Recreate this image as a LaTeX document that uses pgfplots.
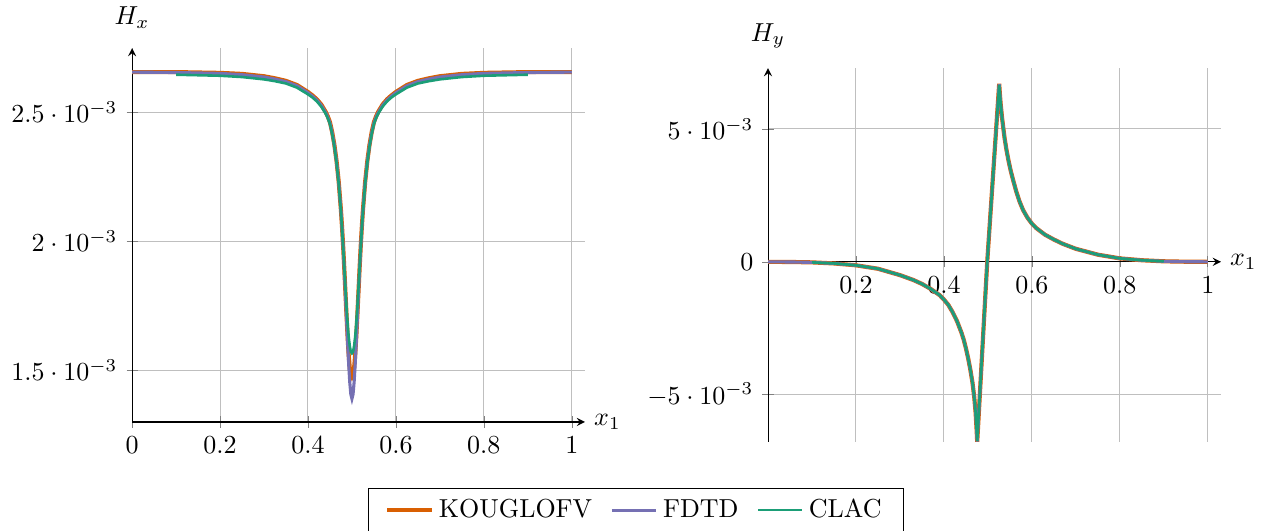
\documentclass[border=0pt]{standalone}
\usepackage{pgfplots}
\usepackage{pgfplotstable}
\pgfplotsset{compat=1.18}
\definecolor{cKou}{HTML}{D95F02}
\definecolor{cFd}{HTML}{7570B3}
\definecolor{cCl}{HTML}{1B9E77}
% H_x (values in units of 1e-3)
\pgfplotstableread{
x      ko     fd     cl
0      2.655  2.655  nan
0.1    2.655  2.6535 2.645
0.2    2.652  2.650  2.641
0.25   2.648  2.645  2.636
0.3    2.639  2.636  2.627
0.325  2.631  2.628  2.620
0.35   2.621  2.618  2.611
0.375  2.605  2.602  2.595
0.4    2.578  2.575  2.569
0.41   2.565  2.562  2.557
0.42   2.550  2.547  2.542
0.43   2.530  2.527  2.522
0.44   2.502  2.499  2.495
0.445  2.484  2.481  2.477
0.45   2.461  2.458  2.454
0.455  2.423  2.420  2.416
0.46   2.374  2.371  2.367
0.465  2.311  2.308  2.304
0.47   2.229  2.226  2.222
0.475  2.120  2.117  2.114
0.4775 2.055  2.051  2.049
0.48   1.981  1.977  1.977
0.4825 1.898  1.894  1.902
0.485  1.809  1.804  1.824
0.4875 1.720  1.710  1.750
0.49   1.635  1.615  1.685
0.4925 1.562  1.527  1.632
0.495  1.510  1.455  1.595
0.4975 1.482  1.407  1.572
0.5    1.474  1.390  1.566
0.5025 1.482  1.407  1.572
0.505  1.510  1.455  1.595
0.5075 1.562  1.527  1.632
0.51   1.635  1.615  1.685
0.5125 1.720  1.710  1.750
0.515  1.809  1.804  1.824
0.5175 1.898  1.894  1.902
0.52   1.981  1.977  1.977
0.5225 2.055  2.051  2.049
0.525  2.120  2.117  2.114
0.53   2.229  2.226  2.222
0.535  2.311  2.308  2.304
0.54   2.374  2.371  2.367
0.545  2.423  2.420  2.416
0.55   2.461  2.458  2.454
0.555  2.484  2.481  2.477
0.56   2.502  2.499  2.495
0.57   2.530  2.527  2.522
0.58   2.550  2.547  2.542
0.59   2.565  2.562  2.557
0.6    2.578  2.575  2.569
0.625  2.605  2.602  2.595
0.65   2.621  2.618  2.611
0.675  2.631  2.628  2.620
0.7    2.639  2.636  2.627
0.75   2.648  2.645  2.636
0.8    2.652  2.650  2.641
0.9    2.655  2.6535 2.645
1      2.655  2.655  nan
}\hxdata
% H_y (values in units of 1e-3)
\pgfplotstableread{
x       ko     fd     cl
0       0.000  0.000  nan
0.05   -0.005 -0.005  nan
0.1    -0.020 -0.020 -0.020
0.15   -0.060 -0.060 -0.060
0.2    -0.130 -0.130 -0.130
0.25   -0.260 -0.260 -0.260
0.3    -0.500 -0.500 -0.500
0.33   -0.680 -0.680 -0.680
0.35   -0.830 -0.830 -0.830
0.37   -1.020 -1.020 -1.020
0.39   -1.250 -1.250 -1.250
0.4    -1.420 -1.420 -1.420
0.41   -1.620 -1.620 -1.620
0.42   -1.900 -1.900 -1.900
0.43   -2.240 -2.240 -2.240
0.44   -2.670 -2.670 -2.670
0.445  -2.930 -2.930 -2.930
0.45   -3.250 -3.250 -3.250
0.455  -3.620 -3.620 -3.620
0.46   -4.050 -4.050 -4.050
0.465  -4.550 -4.550 -4.550
0.469  -5.100 -5.100 -5.100
0.472  -5.650 -5.650 -5.650
0.4743 -6.300 -6.300 -6.300
0.4757 -6.780 -6.760 -6.740
0.4985  0.000  0.000  0.000
0.5257  6.700  6.680  6.660
0.5271  6.350  6.350  6.350
0.529   5.950  5.950  5.950
0.532   5.450  5.450  5.450
0.5348  5.070  5.070  5.070
0.538   4.650  4.650  4.650
0.5424  4.200  4.200  4.200
0.547   3.800  3.800  3.800
0.552   3.420  3.420  3.420
0.5575  3.070  3.070  3.070
0.565   2.620  2.620  2.620
0.572   2.270  2.270  2.270
0.58    1.950  1.950  1.950
0.59    1.660  1.660  1.660
0.6     1.440  1.440  1.440
0.61    1.270  1.270  1.270
0.63    1.020  1.020  1.020
0.65    0.840  0.840  0.840
0.67    0.680  0.680  0.680
0.7     0.490  0.490  0.490
0.75    0.270  0.270  0.270
0.8     0.130  0.130  0.130
0.85    0.060  0.060  0.060
0.9     0.020  0.020  0.020
0.95    0.005  0.005  nan
1       0.000  0.000  nan
}\hydata
\begin{document}
\begin{tikzpicture}
\path[use as bounding box] (-50.8pt,-41.9pt) rectangle (436.9pt,162.3pt);
\begin{axis}[
  at={(0pt,0pt)}, anchor=south west,
  scale only axis, width=174.2pt, height=143.8pt,
  axis lines=left,
  xmin=0, xmax=1.03, ymin=1.3, ymax=2.748,
  xtick={0,0.2,0.4,0.6,0.8,1},
  ytick={1.5,2,2.5},
  yticklabels={$1.5\cdot 10^{-3}$,$2\cdot 10^{-3}$,$2.5\cdot 10^{-3}$},
  scaled y ticks=false,
  grid=major,
  tick align=center,
  xlabel={$x_1$}, ylabel={$H_x$},
  every axis x label/.style={at={(axis description cs:1,0)}, anchor=west},
  every axis y label/.style={at={(axis description cs:0,1)}, anchor=south, yshift=4pt},
  legend columns=3,
  legend style={at={(axis description cs:1.1125,-0.1766)}, anchor=north, draw=black,
    inner xsep=6.5pt,
    /tikz/every even column/.append style={column sep=5pt}},
  legend cell align=left,
]
\addplot[cKou, line width=1.6pt, no markers] table[x=x, y=ko] {\hxdata};
\addlegendentry{KOUGLOFV}
\addplot[cFd, line width=1.2pt, no markers] table[x=x, y=fd] {\hxdata};
\addlegendentry{FDTD}
\addplot[cCl, line width=1.0pt, no markers] table[x=x, y=cl] {\hxdata};
\addlegendentry{CLAC}
\end{axis}

\begin{axis}[
  at={(244.6pt,-7.7pt)}, anchor=south west,
  scale only axis, width=174.2pt, height=143.8pt,
  axis lines=middle,
  xmin=0, xmax=1.03, ymin=-6.78, ymax=7.29,
  xtick={0.2,0.4,0.6,0.8,1},
  ytick={-5,0,5},
  yticklabels={$-5\cdot 10^{-3}$,$0$,$5\cdot 10^{-3}$},
  scaled y ticks=false,
  hide obscured y ticks=false,
  hide obscured x ticks=false,
  grid=major,
  tick align=center,
  xlabel={$x_1$}, ylabel={$H_y$},
  every axis x label/.style={at={(axis cs:1.03,0)}, anchor=west},
  every axis y label/.style={at={(axis description cs:0,1)}, anchor=south, yshift=4pt},
]
\addplot[cKou, line width=1.6pt, no markers] table[x=x, y=ko] {\hydata};
\addplot[cFd, line width=1.2pt, no markers] table[x=x, y=fd] {\hydata};
\addplot[cCl, line width=1.0pt, no markers] table[x=x, y=cl] {\hydata};
\end{axis}
\end{tikzpicture}
\end{document}
